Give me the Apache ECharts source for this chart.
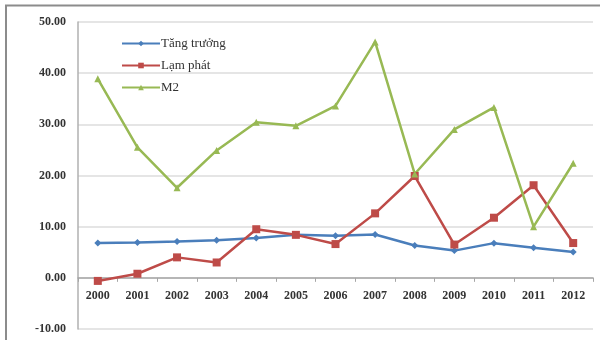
<!DOCTYPE html>
<html>
<head>
<meta charset="utf-8">
<script src="https://cdn.jsdelivr.net/npm/echarts@6/dist/echarts.min.js"></script>
<style>
  html, body { margin: 0; padding: 0; background: #fff; }
  #chart { width: 600px; height: 340px; }
</style>
</head>
<body>
<div id="chart"></div>
<script>
// Years on the category axis
var years = ['2000', '2001', '2002', '2003', '2004', '2005', '2006', '2007', '2008', '2009', '2010', '2011', '2012'];

// GDP growth, inflation and M2 growth (%)
var tangTruong = [6.79, 6.89, 7.08, 7.34, 7.79, 8.44, 8.23, 8.46, 6.31, 5.32, 6.78, 5.89, 5.03];
var lamPhat = [-0.6, 0.8, 4.0, 3.0, 9.5, 8.4, 6.6, 12.6, 19.9, 6.5, 11.75, 18.1, 6.8];
var m2 = [38.9, 25.5, 17.6, 24.9, 30.4, 29.7, 33.6, 46.1, 20.3, 29.0, 33.3, 10.0, 22.4];

var seriesNames = ['Tăng trưởng', 'Lạm phát', 'M2'];

var serif = '"Liberation Serif", "DejaVu Serif", serif';

var chart = echarts.init(document.getElementById('chart'));

function lineSeries(name, data, color, symbol, size) {
  return {
    name: name,
    type: 'line',
    data: data,
    symbol: symbol,
    symbolSize: size,
    showAllSymbol: true,
    lineStyle: { color: color, width: 2.5 },
    itemStyle: { color: color },
    emphasis: { disabled: true },
    animation: false
  };
}

var option = {
  animation: false,
  grid: { left: 78, right: 7, top: 22, bottom: 11, outerBoundsMode: 'none', containLabel: false },
  legend: {
    orient: 'vertical',
    left: 116,
    top: 32,
    itemWidth: 38,
    itemHeight: 7,
    itemGap: 9,
    textStyle: { fontFamily: serif, fontSize: 13, color: '#333', padding: [0, 0, 0, -4] },
    data: seriesNames
  },
  xAxis: {
    type: 'category',
    data: years,
    boundaryGap: true,
    offset: 0,
    axisLine: { onZero: false, lineStyle: { color: '#a6a6a6', width: 1.5 } },
    axisTick: { show: true, length: 4, lineStyle: { color: '#a6a6a6' } },
    axisLabel: { fontFamily: serif, fontWeight: 'bold', fontSize: 12, color: '#333', margin: 12 },
    splitLine: { show: false }
  },
  yAxis: {
    type: 'value',
    min: -10,
    max: 50,
    interval: 10,
    axisLine: { show: true, lineStyle: { color: '#b0b0b0', width: 1.5 } },
    axisTick: { show: false },
    axisLabel: {
      fontFamily: serif, fontWeight: 'bold', fontSize: 12, color: '#333', margin: 12,
      formatter: function (v) { return v.toFixed(2); }
    },
    splitLine: { lineStyle: { color: '#dcdcdc', width: 1.5 } }
  },
  series: [
    lineSeries(seriesNames[0], tangTruong, '#4a7ebb', 'diamond', 7),
    lineSeries(seriesNames[1], lamPhat, '#be4b48', 'rect', 8),
    lineSeries(seriesNames[2], m2, '#98b954', 'triangle', 7)
  ],
  graphic: [
    {
      type: 'polyline',
      silent: true,
      shape: { points: [[6, 340], [6, 5.5], [600, 5.5]] },
      style: { stroke: '#8c8c8c', lineWidth: 2, fill: null }
    }
  ]
};

chart.setOption(option);

// Lift the category axis (line, ticks and labels) up to the zero value line
var zeroY = chart.convertToPixel({ yAxisIndex: 0 }, 0);
var bottomY = chart.convertToPixel({ yAxisIndex: 0 }, -10);
chart.setOption({ xAxis: { offset: zeroY - bottomY } });
</script>
</body>
</html>
